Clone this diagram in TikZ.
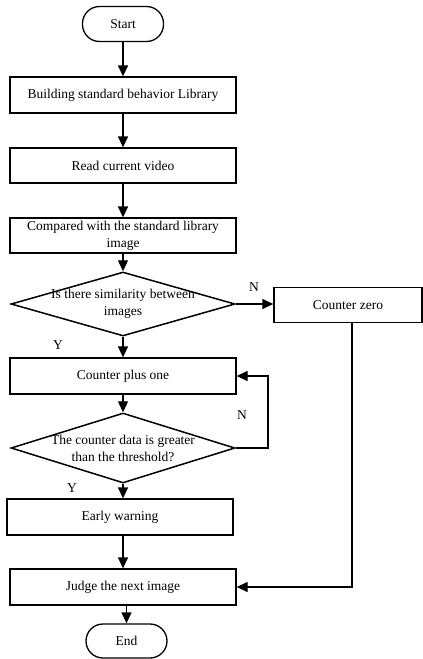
\documentclass[tikz,border=0pt]{standalone}
\usepackage{fontspec}
\setmainfont{Liberation Serif}
\usetikzlibrary{shapes.geometric,arrows.meta}
\begin{document}
\begin{tikzpicture}[x=1pt,y=1pt,
  every node/.style={font=\fontsize{13.5}{17}\selectfont},
  box/.style={draw,line width=1.3pt,rectangle,minimum width=226pt,minimum height=36pt,inner sep=0pt,align=center},
  term/.style={draw,line width=1.3pt,rectangle,rounded corners=17pt,minimum width=81pt,minimum height=35pt,inner sep=0pt},
  dia/.style={draw,line width=1.5pt,diamond,inner sep=0pt,minimum width=224pt,minimum height=64pt,aspect=3.5},
  lbl/.style={inner sep=0pt},
  arr/.style={line width=1.3pt,-{Triangle[length=11pt,width=10pt]}},
  ln/.style={line width=1.3pt}]
\useasboundingbox (0,0) rectangle (423,-659);
\node[term] (start) at (123,-24) {Start};
\node[box] (b1) at (123,-95) {Building standard behavior Library};
\node[box,minimum height=35pt] (b2) at (123,-165.5) {Read current video};
\node[box,minimum height=35pt] (b3) at (123,-235.5) {Compared with the standard library\\image};
\node[dia] (d1) at (123,-304) {};
\node[lbl,align=center] (d1t) at (123,-304) {Is there similarity between\\images};
\node[box,minimum width=148pt,minimum height=35pt] (cz) at (348,-305) {Counter zero};
\node[box] (b4) at (123,-376) {Counter plus one};
\node[dia,minimum height=70pt] (d2) at (123,-448) {};
\node[lbl,align=center] (d2t) at (123,-448) {The counter data is greater\\than the threshold?};
\node[box] (b5) at (120,-517) {Early warning};
\node[box] (b6) at (123,-587) {Judge the next image};
\node[term,minimum height=34pt] (end) at (126.5,-641) {End};
\node[lbl] (n1) at (254,-287) {N};
\node[lbl] (n2) at (242,-415) {N};
\node[lbl] (y1) at (58,-345) {Y};
\node[lbl] (y2) at (72,-488) {Y};
\draw[arr] (start) -- (b1);
\draw[arr] (b1) -- (b2);
\draw[arr] (b2) -- (b3);
\draw[arr] (b3) -- (d1);
\draw[arr] (d1.east) -- (d1.east -| cz.west);
\draw[arr] (d1) -- (b4);
\draw[arr] (b4) -- (d2);
\coordinate (lp) at (268,-448);
\draw[arr] (d2.east) -- (lp) |- (b4.east);
\draw[arr] (d2) -- (b5.north -| d2.south);
\draw[arr] (b5.south -| b6.north) -- (b6);
\coordinate (cz1) at (352,-323);
\draw[arr] (cz1) |- (b6.east);
\draw[arr] (b6.south -| end.north) -- (end);
\end{tikzpicture}
\end{document}
